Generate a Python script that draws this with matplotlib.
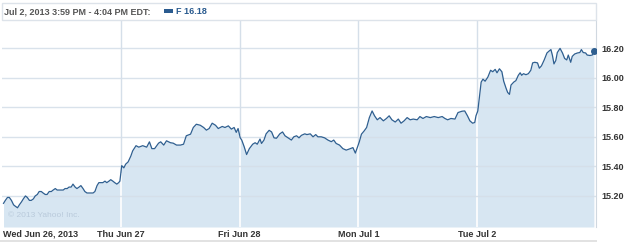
import numpy as np
import matplotlib
matplotlib.use("Agg")
import matplotlib.pyplot as plt
from matplotlib.patches import Rectangle

plt.rcParams['font.family'] = ['Liberation Sans', 'DejaVu Sans']

# minutes after the 9:30 open, and price, one pair of lists per trading day
wed_min = [5, 11, 18, 24, 31, 38, 44, 51, 57, 64, 70, 77, 83, 90, 96, 103, 109, 116, 122, 129,
           135, 142, 148, 155, 162, 168, 175, 181, 188, 194, 201, 207, 214, 220, 227, 233, 240, 246, 253, 259,
           266, 272, 279, 286, 292, 299, 305, 312, 318, 325, 331, 338, 344, 351, 357, 364, 370, 377, 383, 387]
wed_px = [15.15, 15.17, 15.19, 15.19, 15.17, 15.14, 15.13, 15.12, 15.14, 15.16, 15.18, 15.20, 15.19, 15.17, 15.17, 15.18, 15.20, 15.21, 15.23, 15.23,
          15.22, 15.21, 15.21, 15.23, 15.23, 15.24, 15.25, 15.24, 15.24, 15.24, 15.24, 15.25, 15.25, 15.26, 15.26, 15.28, 15.26, 15.25, 15.26, 15.27,
          15.25, 15.23, 15.22, 15.22, 15.22, 15.22, 15.23, 15.27, 15.29, 15.29, 15.29, 15.30, 15.29, 15.30, 15.31, 15.30, 15.29, 15.28, 15.29, 15.30]

thu_min = [3, 10, 16, 24, 33, 39, 50, 59, 72, 85, 94, 102, 111, 124, 131, 141, 150, 163, 172, 183,
           196, 206, 215, 229, 238, 248, 261, 272, 281, 290, 300, 311, 320, 333, 342, 353, 363, 372, 379, 385]
thu_px = [15.405, 15.39, 15.415, 15.43, 15.47, 15.505, 15.54, 15.53, 15.54, 15.53, 15.566, 15.52, 15.52, 15.557, 15.566, 15.544, 15.573, 15.56, 15.557, 15.544,
          15.544, 15.55, 15.607, 15.618, 15.663, 15.685, 15.678, 15.663, 15.645, 15.656, 15.692, 15.678, 15.656, 15.67, 15.663, 15.674, 15.652, 15.663, 15.63, 15.656]

fri_min = [2, 7, 15, 23, 32, 43, 51, 58, 67, 72, 80, 87, 97, 105, 113, 121, 132, 141, 149, 159,
           170, 178, 187, 195, 203, 214, 221, 232, 241, 250, 257, 268, 279, 290, 301, 309, 317, 328, 339, 350,
           361, 372, 380]
fri_px = [15.593, 15.578, 15.533, 15.48, 15.52, 15.55, 15.56, 15.55, 15.585, 15.555, 15.578, 15.62, 15.644, 15.633, 15.593, 15.59, 15.62, 15.633, 15.607, 15.593,
          15.578, 15.60, 15.607, 15.593, 15.61, 15.62, 15.615, 15.62, 15.60, 15.615, 15.60, 15.60, 15.593, 15.578, 15.567, 15.578, 15.555, 15.544, 15.52, 15.51,
          15.518, 15.527, 15.49]

mon_min = [3, 10, 19, 27, 36, 45, 53, 62, 71, 82, 92, 101, 110, 121, 131, 140, 150, 160, 170, 180,
           193, 202, 212, 223, 236, 249, 262, 275, 284, 293, 304, 317, 327, 340, 349, 358, 366, 375, 382, 386]
mon_px = [15.566, 15.618, 15.64, 15.663, 15.73, 15.775, 15.742, 15.715, 15.73, 15.708, 15.724, 15.742, 15.715, 15.70, 15.72, 15.692, 15.708, 15.73, 15.715, 15.72,
          15.715, 15.737, 15.724, 15.737, 15.73, 15.737, 15.73, 15.737, 15.724, 15.715, 15.724, 15.72, 15.764, 15.773, 15.775, 15.742, 15.708, 15.692, 15.697, 15.742]

tue_min = [2, 8, 13, 19, 26, 35, 44, 51, 59, 65, 73, 81, 87, 95, 100, 106, 111, 120, 127, 135,
           141, 146, 152, 160, 168, 176, 182, 189, 198, 204, 211, 220, 229, 236, 242, 247, 252, 258, 263, 272,
           280, 287, 294, 299, 307, 312, 320, 329, 337, 342, 348, 356, 361, 370, 378, 383]
tue_px = [15.775, 15.88, 15.97, 15.99, 15.976, 16.004, 16.05, 16.04, 16.056, 16.033, 16.06, 16.04, 15.976, 15.927, 15.90, 15.887, 15.95, 15.97, 15.98, 16.016,
          16.033, 16.016, 16.027, 16.02, 16.027, 16.05, 16.10, 16.104, 16.10, 16.064, 16.08, 16.12, 16.167, 16.18, 16.19, 16.15, 16.093, 16.116, 16.17, 16.198,
          16.167, 16.13, 16.12, 16.153, 16.104, 16.144, 16.16, 16.167, 16.17, 16.19, 16.17, 16.167, 16.153, 16.15, 16.153, 16.18]

day_labels = ["Wed Jun 26, 2013", "Thu Jun 27", "Fri Jun 28", "Mon Jul 1", "Tue Jul 2"]
y_ticks = [15.20, 15.40, 15.60, 15.80, 16.00, 16.20]
header = "Jul 2, 2013 3:59 PM - 4:04 PM EDT:"
symbol_text = "F 16.18"

days_min = [wed_min, thu_min, fri_min, mon_min, tue_min]
days_px = [wed_px, thu_px, fri_px, mon_px, tue_px]
session = 390.0

xs = []
ys = []
for d in range(5):
    for m, p in zip(days_min[d], days_px[d]):
        xs.append(d + m / session)
        ys.append(p)
xs = np.array(xs)
ys = np.array(ys)

W, H = 625, 244
fig = plt.figure(figsize=(W / 100, H / 100), dpi=100)
ax = fig.add_axes([2 / W, 17 / H, 594 / W, 207 / H])

ymin, ymax = 14.99, 16.39
line_col = "#2f5f90"
fill_col = "#d7e6f2"
grid_col = "#d5dfe9"
text_col = "#333333"

ax.set_xlim(0, 5)
ax.set_ylim(ymin, ymax)

# vertical day separators (grey in the white part)
for d in range(1, 5):
    ax.axvline(d, color=grid_col, lw=1, zorder=0)

ax.fill_between(xs, ys, ymin, color=fill_col, lw=0, zorder=1)

# separators show white inside the filled area
for d in range(1, 5):
    top = np.interp(d, xs, ys)
    ax.vlines(d, ymin, top, color="white", lw=1.2, zorder=2)

for t in y_ticks:
    ax.axhline(t, color=grid_col, lw=1, zorder=2, alpha=0.9)

ax.plot(xs, ys, color=line_col, lw=0.9, zorder=3)
ax.plot(xs[-1], ys[-1], "o", color=line_col, ms=4, zorder=4)

ax.yaxis.tick_right()
ax.set_yticks(y_ticks)
ax.set_yticklabels(["%.2f" % t for t in y_ticks], fontsize=6.5, fontweight="bold", color=text_col)
ax.tick_params(axis="y", length=0, pad=4)
ax.set_xticks([])

for s in ["top", "left", "bottom"]:
    ax.spines[s].set_visible(False)
ax.spines["right"].set_color("#d0d8e0")

# x labels
ax.text(0.005, -0.035, day_labels[0], transform=ax.get_xaxis_transform(), ha="left", va="center",
        fontsize=6.5, fontweight="bold", color=text_col)
for d in range(1, 5):
    ax.text(d, -0.035, day_labels[d], transform=ax.get_xaxis_transform(), ha="center", va="center",
            fontsize=6.5, fontweight="bold", color=text_col)

ax.text(0.01, 0.04, "\u00a9 2013 Yahoo! Inc.", transform=ax.transAxes, fontsize=6,
        color="#b9cadb", ha="left", va="bottom", zorder=5)

# header strip
fig.patches.append(Rectangle((2 / W, (H - 20) / H), 594 / W, 17 / H, transform=fig.transFigure,
                             facecolor="white", edgecolor="#dde3ea", lw=1))
fig.text(4 / W, (H - 11.5) / H, header, fontsize=6.5, fontweight="bold", color="#555555", va="center")
fig.patches.append(Rectangle((164 / W, (H - 13) / H), 9 / W, 3.5 / H, transform=fig.transFigure,
                             facecolor="#2a5b8f", edgecolor="none"))
fig.text(176 / W, (H - 11.5) / H, symbol_text, fontsize=6.5, fontweight="bold", color="#2a5b8f", va="center")

# bottom band
fig.patches.append(Rectangle((0, 2 / H), 597 / W, 2 / H, transform=fig.transFigure,
                             facecolor="#e2e2e2", edgecolor="none"))

fig.savefig("out.png", dpi=100)
